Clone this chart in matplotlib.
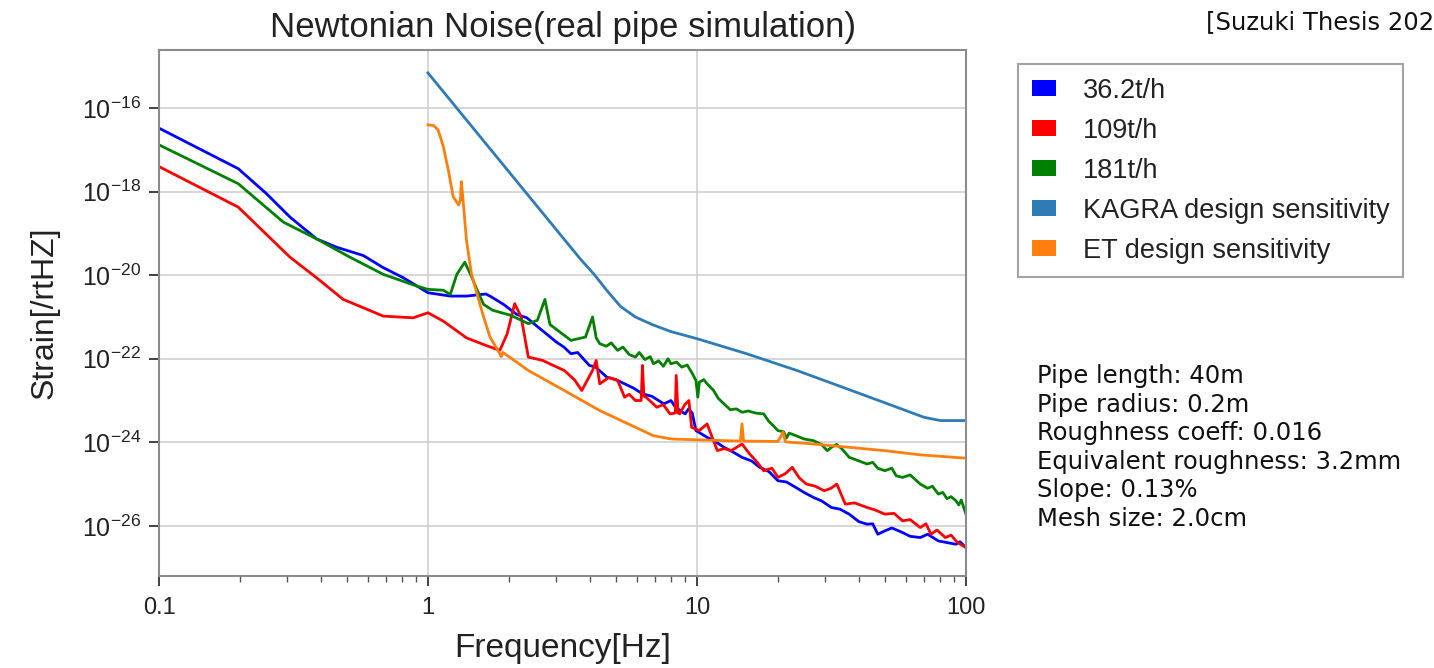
import numpy as np
import matplotlib
matplotlib.use("Agg")
import matplotlib.pyplot as plt
from matplotlib.patches import Patch
from matplotlib.ticker import FixedLocator, FixedFormatter, LogLocator, NullFormatter, NullLocator

# ---- series data: frequency [Hz] and log10(strain [/rtHz]) ----
f_36 = [0.1, 0.197, 0.251, 0.307, 0.385, 0.457, 0.575, 0.682, 0.809, 1.0,
        1.21, 1.39, 1.64, 1.70, 1.91, 2.14, 2.33, 2.54, 2.75, 3.0,
        3.2, 3.40, 3.6, 3.98, 4.2, 4.62, 5.0, 5.38, 5.8, 6.27,
        6.8, 7.53, 8.0, 8.3, 8.7, 9.04, 9.3, 9.6, 9.91,
        10.9, 11.5, 12.6, 13.5, 14.7, 16.0, 17.1, 18.5, 20.0, 21.5,
        23.3, 25.0, 27.1, 29.0, 31.6, 34.0, 36.8, 40.0, 42.9, 45.0,
        47.0, 49.9, 53.0, 58.1, 62.0, 67.6, 72.0, 78.9, 85.0, 91.8,
        95.0, 100.0]
s_36 = [-16.48, -17.45, -18.05, -18.61, -19.13, -19.33, -19.53, -19.82, -20.06, -20.42,
        -20.50, -20.50, -20.45, -20.50, -20.70, -20.94, -21.02, -21.22, -21.40, -21.60,
        -21.72, -21.88, -21.85, -22.16, -22.20, -22.44, -22.50, -22.60, -22.70, -22.84,
        -22.90, -23.08, -23.00, -23.15, -23.25, -23.32, -23.20, -23.30, -23.72,
        -23.88, -23.95, -24.12, -24.22, -24.36, -24.45, -24.60, -24.70, -24.92, -24.95,
        -25.08, -25.20, -25.32, -25.40, -25.56, -25.60, -25.72, -25.90, -25.96, -25.95,
        -26.20, -26.12, -26.05, -26.16, -26.25, -26.28, -26.20, -26.36, -26.40, -26.44,
        -26.38, -26.52]

f_109 = [0.1, 0.197, 0.307, 0.385, 0.484, 0.575, 0.682, 0.881, 1.0, 1.14,
         1.39, 1.64, 1.85, 1.97, 2.10, 2.22, 2.36, 2.67, 2.9, 3.21,
         3.5, 3.73, 4.09, 4.22, 4.35, 4.7, 5.07, 5.38, 5.6, 5.90,
         6.20, 6.27, 6.35, 6.46, 6.8, 7.08, 7.5, 7.94, 8.30, 8.37,
         8.50, 8.63, 9.00, 9.33, 9.55, 10.2, 10.9, 11.9, 12.6, 13.4,
         14.7, 15.7, 16.6, 17.7, 19.0, 20.0, 21.3, 22.6, 24.0, 25.5,
         27.5, 29.7, 31.5, 33.1, 35.6, 38.5, 42.9, 46.0, 49.9, 54.0,
         58.1, 62.0, 67.6, 71.0, 74.1, 78.0, 83.8, 88.0, 93.0, 100.0]
s_109 = [-17.40, -18.37, -19.57, -20.06, -20.58, -20.78, -20.98, -21.02, -20.90, -21.10,
         -21.50, -21.68, -21.80, -21.40, -20.68, -21.00, -21.96, -22.04, -22.15, -22.28,
         -22.50, -22.76, -22.28, -22.04, -22.60, -22.45, -22.52, -22.92, -22.85, -23.00,
         -23.00, -22.16, -22.90, -22.92, -23.05, -23.16, -23.10, -23.32, -23.30, -22.40,
         -23.30, -23.32, -23.10, -23.00, -23.64, -23.72, -23.56, -24.20, -24.15, -24.20,
         -24.04, -24.28, -24.45, -24.68, -24.62, -24.84, -24.75, -24.60, -24.85, -25.00,
         -25.05, -25.16, -25.10, -25.00, -25.48, -25.45, -25.56, -25.62, -25.72, -25.70,
         -25.88, -25.85, -26.04, -25.95, -26.20, -26.10, -26.28, -26.22, -26.40, -26.52]

f_181 = [0.1, 0.197, 0.29, 0.385, 0.513, 0.682, 0.908, 1.0, 1.14, 1.21,
         1.28, 1.37, 1.44, 1.51, 1.61, 1.74, 2.03, 2.36, 2.55, 2.72,
         2.84, 2.92, 3.40, 3.85, 4.09, 4.22, 4.35, 4.6, 4.8, 5.07,
         5.3, 5.6, 5.9, 6.1, 6.4, 6.7, 6.89, 7.2, 7.5, 7.8,
         8.0, 8.4, 8.77, 9.2, 9.6, 9.91, 10.07, 10.2, 10.6, 10.9,
         11.5, 12.0, 12.6, 13.3, 14.0, 14.7, 15.5, 16.5, 17.7, 18.5,
         19.2, 20.0, 21.0, 21.5, 22.0, 23.3, 25.0, 27.1, 29.0, 30.5,
         31.6, 33.0, 34.5, 36.8, 39.0, 42.9, 45.0, 47.0, 49.9, 53.0,
         55.0, 58.1, 62.0, 67.6, 72.0, 75.0, 78.9, 82.0, 85.0, 88.0,
         91.8, 94.0, 96.0, 98.0, 100.0]
s_181 = [-16.88, -17.81, -18.73, -19.13, -19.57, -19.98, -20.26, -20.34, -20.36, -20.46,
         -19.98, -19.69, -19.98, -20.30, -20.70, -20.84, -20.96, -21.16, -21.08, -20.58,
         -21.18, -21.24, -21.56, -21.48, -21.00, -21.50, -21.64, -21.70, -21.62, -21.80,
         -21.72, -21.90, -21.96, -21.85, -22.02, -21.95, -22.12, -22.05, -22.18, -22.00,
         -22.12, -22.08, -22.20, -22.15, -22.35, -22.52, -22.92, -22.56, -22.50, -22.60,
         -22.75, -22.95, -23.08, -23.22, -23.20, -23.28, -23.25, -23.30, -23.32, -23.50,
         -23.60, -23.72, -23.75, -23.90, -23.78, -23.84, -23.92, -23.96, -24.05, -24.20,
         -24.12, -24.05, -24.15, -24.36, -24.42, -24.52, -24.48, -24.62, -24.68, -24.62,
         -24.80, -24.84, -24.78, -25.00, -25.10, -25.05, -25.24, -25.20, -25.35, -25.30,
         -25.40, -25.50, -25.38, -25.55, -25.72]

f_kagra = [1.0, 3.67, 4.17, 4.6, 5.2, 5.9, 6.8, 8.0, 10.0, 15.3,
           23.5, 36.1, 55.3, 69.7, 80.4, 100.0]
s_kagra = [-15.16, -19.60, -20.00, -20.35, -20.75, -21.00, -21.18, -21.35, -21.52, -21.88,
           -22.28, -22.72, -23.16, -23.40, -23.48, -23.48]

f_et = [1.0, 1.05, 1.09, 1.14, 1.19, 1.24, 1.30, 1.32, 1.33, 1.35,
        1.39, 1.45, 1.52, 1.61, 1.70, 1.85, 1.87, 1.90, 2.36, 3.21,
        4.35, 5.90, 6.87, 8.0, 10.0, 12.6, 14.5, 14.7, 14.9, 20.0,
        20.9, 21.3, 27.1, 36.8, 49.9, 67.6, 100.0]
s_et = [-16.40, -16.42, -16.52, -16.92, -17.48, -18.12, -18.32, -18.20, -17.76, -18.20,
        -19.16, -19.96, -20.44, -21.00, -21.48, -21.88, -21.95, -21.85, -22.28, -22.76,
        -23.24, -23.64, -23.84, -23.92, -23.94, -23.96, -23.97, -23.56, -23.97, -23.98,
        -23.76, -23.99, -24.04, -24.12, -24.20, -24.30, -24.38]

labels = ["36.2t/h", "109t/h", "181t/h", "KAGRA design sensitivity", "ET design sensitivity"]
colors = ["#0000ff", "#ff0000", "#008000", "#2f7bb6", "#ff7f0e"]

x_ticks = [0.1, 1, 10, 100]
x_ticklabels = ["0.1", "1", "10", "100"]
y_ticks = [1e-16, 1e-18, 1e-20, 1e-22, 1e-24, 1e-26]
y_ticklabels = [r"$\mathregular{10^{-16}}$", r"$\mathregular{10^{-18}}$", r"$\mathregular{10^{-20}}$",
                r"$\mathregular{10^{-22}}$", r"$\mathregular{10^{-24}}$", r"$\mathregular{10^{-26}}$"]

params_text = ("Pipe length: 40m\nPipe radius: 0.2m\nRoughness coeff: 0.016\n"
               "Equivalent roughness: 3.2mm\nSlope: 0.13%\nMesh size: 2.0cm")

plt.rcParams["font.family"] = ["Liberation Sans", "DejaVu Sans"]
plt.rcParams["mathtext.fontset"] = "custom"
plt.rcParams["mathtext.rm"] = "Liberation Sans"

W, H = 1434, 668
fig = plt.figure(figsize=(W / 100, H / 100), dpi=100)
ax = fig.add_axes([159 / W, 1 - 576 / H, (966 - 159) / W, (576 - 50) / H])

series = [(f_36, s_36), (f_109, s_109), (f_181, s_181), (f_kagra, s_kagra), (f_et, s_et)]
for (f, s), c in zip(series, colors):
    ax.plot(f, 10.0 ** np.asarray(s), color=c, lw=2.0, solid_joinstyle="round")

ax.set_xscale("log")
ax.set_yscale("log")
ax.set_xlim(0.1, 100)
ax.set_ylim(10 ** -27.2, 10 ** -14.61)

ax.xaxis.set_major_locator(FixedLocator(x_ticks))
ax.xaxis.set_major_formatter(FixedFormatter(x_ticklabels))
ax.xaxis.set_minor_locator(LogLocator(base=10, subs=np.arange(2, 10)))
ax.xaxis.set_minor_formatter(NullFormatter())
ax.yaxis.set_major_locator(FixedLocator(y_ticks))
ax.yaxis.set_major_formatter(FixedFormatter(y_ticklabels))
ax.yaxis.set_minor_locator(NullLocator())

ax.grid(True, which="major", color="#cfcfcf", lw=1.2)
ax.set_axisbelow(True)
for sp in ax.spines.values():
    sp.set_color("#8c8c8c")
    sp.set_linewidth(1.5)
ax.tick_params(axis="y", which="major", direction="out", length=7, width=1.3,
               color="#333333", labelsize=18, labelcolor="#222222", pad=6)
ax.tick_params(axis="x", which="major", direction="out", length=7, width=1.3,
               color="#333333", labelsize=17, labelcolor="#222222", pad=8)
ax.tick_params(axis="x", which="minor", direction="out", length=4, width=1.0, color="#555555")

ax.set_title("Newtonian Noise(real pipe simulation)", fontsize=25, color="#222222", pad=9)
ax.set_xlabel("Frequency[Hz]", fontsize=24, color="#222222", labelpad=10)
ax.set_ylabel("Strain[/rtHZ]", fontsize=23, color="#222222", labelpad=16)

handles = [Patch(facecolor=c, edgecolor="none") for c in colors]
leg = fig.legend(handles, labels, loc="upper left", bbox_to_anchor=(1018 / W, 1 - 64 / H),
                 borderaxespad=0, fontsize=19.5, frameon=True, fancybox=False,
                 edgecolor="#8c8c8c", handlelength=0.9, handleheight=0.55,
                 handletextpad=1.0, labelspacing=0.52, borderpad=0.5)
leg.get_frame().set_linewidth(1.5)
for t in leg.get_texts():
    t.set_color("#222222")

fig.text(1037 / W, 1 - 364 / H, params_text, fontsize=17.5, family=["DejaVu Sans"],
         va="top", ha="left", linespacing=1.24, color="#111111")
fig.text(1434 / W, 1 - 22 / H, "[Suzuki Thesis 202", fontsize=17.5, family=["DejaVu Sans"],
         va="center", ha="right", color="#111111")

fig.savefig("out.png", dpi=100, facecolor="white")
